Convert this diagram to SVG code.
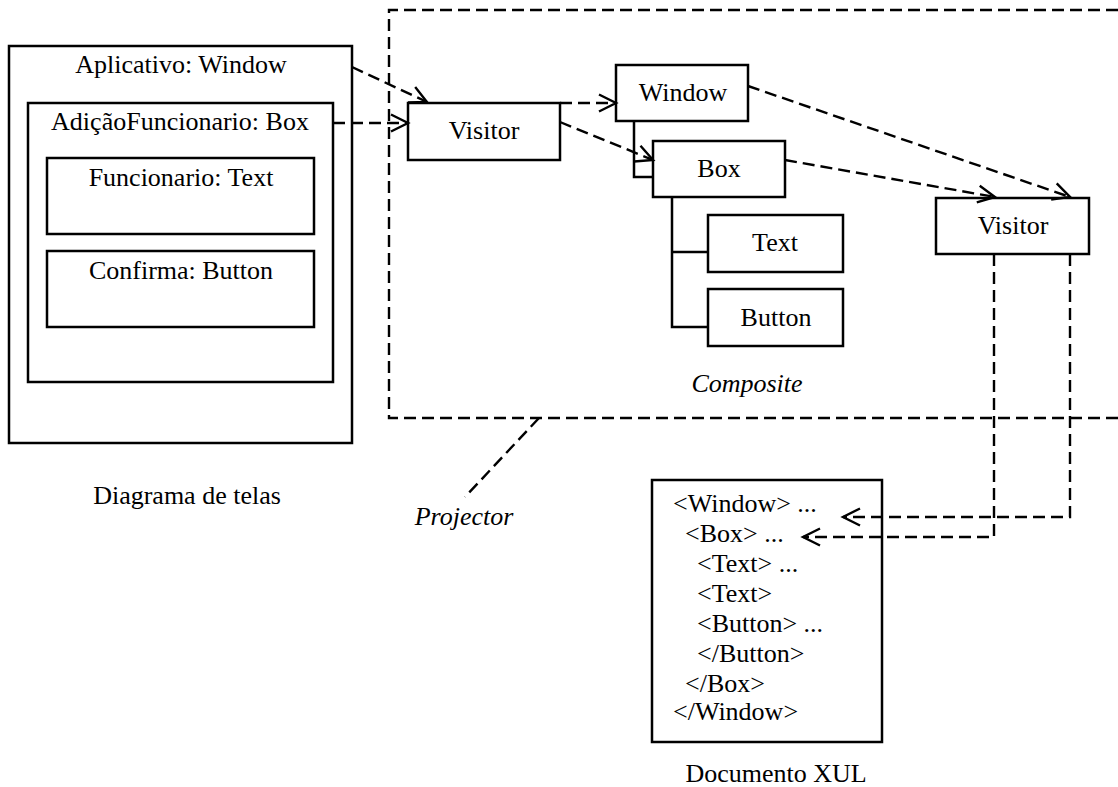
<svg xmlns="http://www.w3.org/2000/svg" width="1118" height="787" viewBox="0 0 1118 787">
<style>
.box{fill:#fff;stroke:#000;stroke-width:2.5}
.t{font-family:"Liberation Serif","Times New Roman",serif;font-size:26px;fill:#000;text-anchor:middle}
.l{font-family:"Liberation Serif","Times New Roman",serif;font-size:26px;fill:#000}
.i{font-style:italic}
.dash{fill:none;stroke:#000;stroke-width:2.4;stroke-dasharray:12 6}
.solid{fill:none;stroke:#000;stroke-width:2.5}
</style>
<defs>
<marker id="arr" markerUnits="userSpaceOnUse" markerWidth="22" markerHeight="22" viewBox="0 0 22 22" refX="19" refY="11" orient="auto">
<path d="M2,2.5 L19,11 L2,19.5" fill="none" stroke="#000" stroke-width="2.4" stroke-dasharray="none"/>
</marker>
</defs>
<rect width="1118" height="787" fill="#fff"/>

<g id="projector-frame">
<path class="dash" d="M1118,10 H389 V418 H1118"/>
</g>

<g id="aplicativo">
<rect class="box" x="9" y="46" width="343" height="397"/>
<text class="t" x="181" y="73">Aplicativo: Window</text>
</g>
<g id="adicao">
<rect class="box" x="28" y="103" width="305" height="279"/>
<text class="t" x="180" y="130">AdiçãoFuncionario: Box</text>
</g>
<g id="funcionario">
<rect class="box" x="47" y="158" width="267" height="76"/>
<text class="t" x="181" y="186">Funcionario: Text</text>
</g>
<g id="confirma">
<rect class="box" x="47" y="251" width="267" height="76"/>
<text class="t" x="181" y="279">Confirma: Button</text>
</g>

<g id="visitor1">
<rect class="box" x="408" y="103" width="152" height="57"/>
<text class="t" x="484" y="139">Visitor</text>
</g>
<g id="window">
<rect class="box" x="616" y="65" width="132" height="56"/>
<text class="t" x="683" y="101">Window</text>
</g>
<g id="box">
<rect class="box" x="653" y="141" width="132" height="56"/>
<text class="t" x="719" y="177">Box</text>
</g>
<g id="text">
<rect class="box" x="708" y="215" width="135" height="57"/>
<text class="t" x="775" y="251">Text</text>
</g>
<g id="button">
<rect class="box" x="708" y="289" width="135" height="57"/>
<text class="t" x="776" y="326">Button</text>
</g>
<g id="visitor2">
<rect class="box" x="936" y="198" width="153" height="56"/>
<text class="t" x="1013" y="234">Visitor</text>
</g>

<g id="xul">
<rect class="box" x="652" y="480" width="230" height="262"/>
<text class="l" x="673" y="512">&lt;Window&gt; ...</text>
<text class="l" x="685" y="542">&lt;Box&gt; ...</text>
<text class="l" x="697" y="572">&lt;Text&gt; ...</text>
<text class="l" x="697" y="602">&lt;Text&gt;</text>
<text class="l" x="697" y="632">&lt;Button&gt; ...</text>
<text class="l" x="697" y="662">&lt;/Button&gt;</text>
<text class="l" x="685" y="692">&lt;/Box&gt;</text>
<text class="l" x="673" y="720">&lt;/Window&gt;</text>
</g>

<g id="labels">
<text class="t i" x="747" y="392">Composite</text>
<text class="t" x="187" y="504">Diagrama de telas</text>
<text class="t i" x="464" y="525">Projector</text>
<text class="t" x="776" y="782">Documento XUL</text>
</g>

<g id="connectors">
<path class="solid" d="M634,121 V177 H653"/>
<path class="solid" d="M672,197 V327 H708 M672,252 H708"/>
<path class="dash" d="M352,67 L427,102" marker-end="url(#arr)"/>
<path class="dash" d="M333,123 L408,123" marker-end="url(#arr)"/>
<path class="dash" d="M560,103 L616,103" marker-end="url(#arr)"/>
<path class="dash" d="M560,122 L653,160" marker-end="url(#arr)"/>
<path class="dash" d="M748,86 L1070,197" marker-end="url(#arr)"/>
<path class="dash" d="M785,160 L995,197" marker-end="url(#arr)"/>
<path class="dash" d="M994,254 V537 H803" marker-end="url(#arr)"/>
<path class="dash" d="M1070,254 V517 H843" marker-end="url(#arr)"/>
<path class="dash" d="M539,418 L465,497"/>
</g>
</svg>
